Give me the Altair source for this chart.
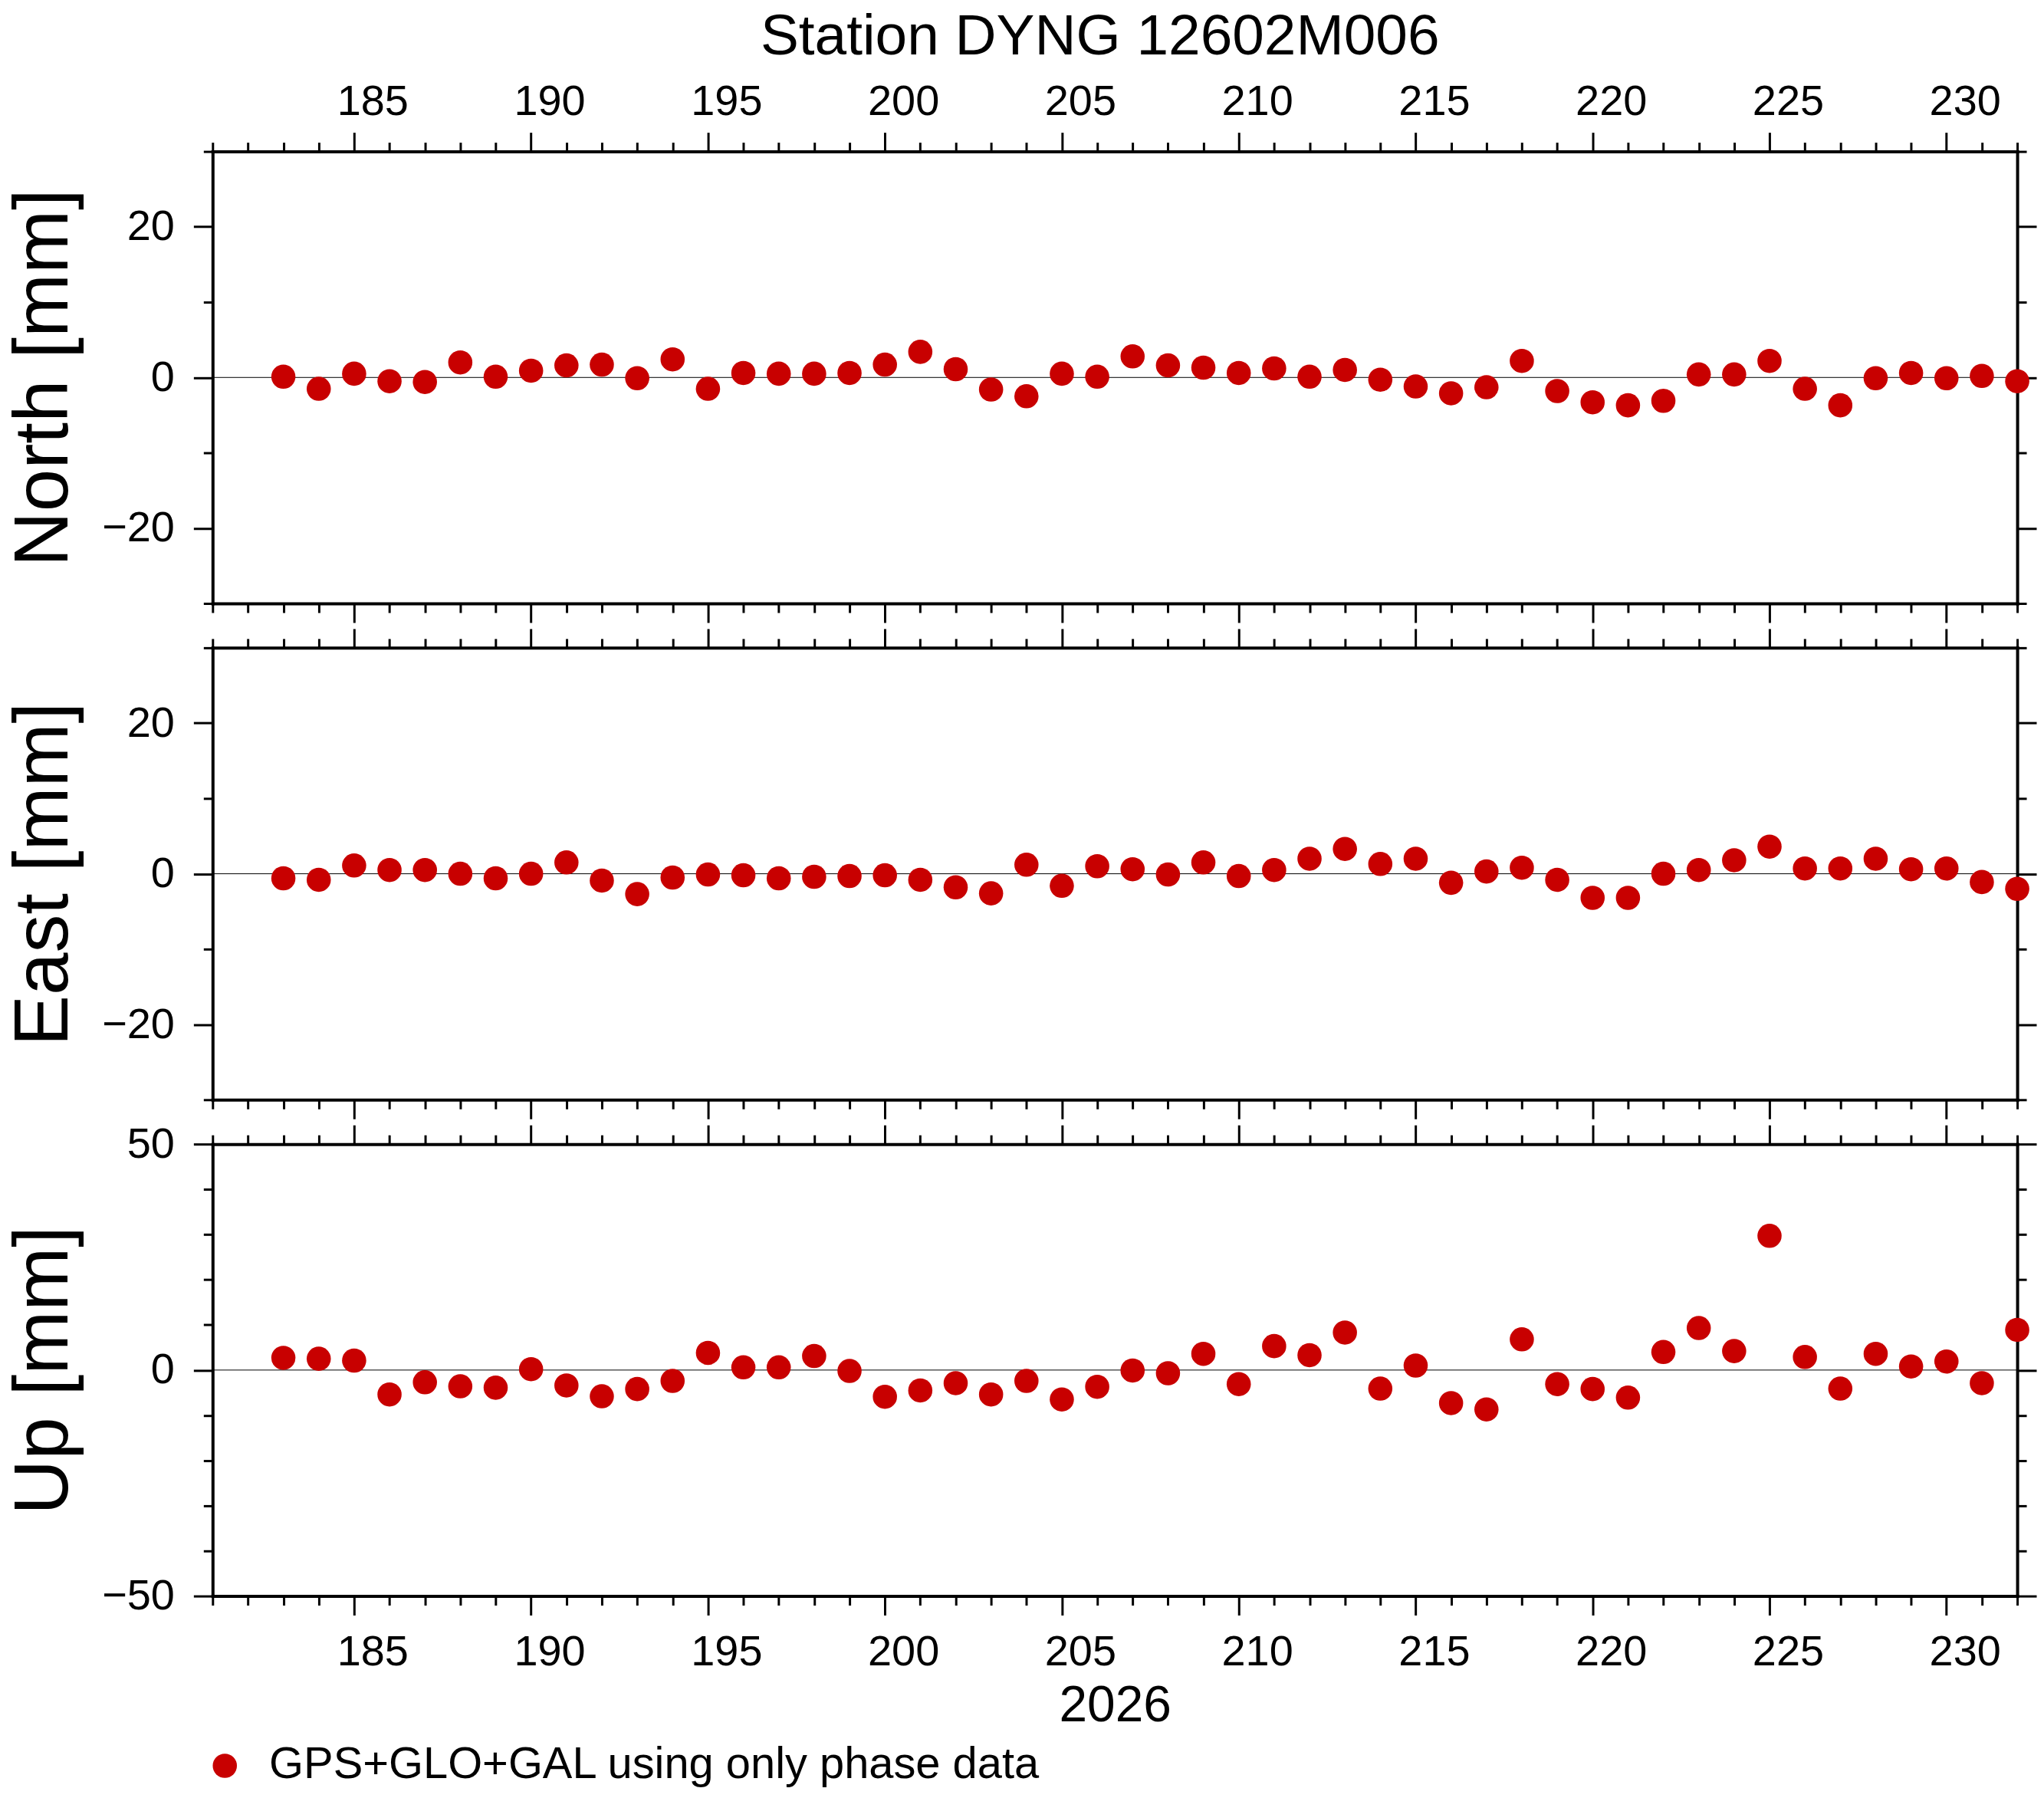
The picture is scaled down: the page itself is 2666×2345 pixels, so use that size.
import altair as alt
import pandas as pd

# Day of year 2026, one solution per day
days = list(range(183, 233))

north = [0.1, -1.5, 0.5, -0.5, -0.6, 2.0, 0.1, 0.9, 1.6, 1.7,
         -0.1, 2.4, -1.5, 0.6, 0.5, 0.5, 0.6, 1.7, 3.4, 1.1,
         -1.6, -2.5, 0.5, 0.1, 2.8, 1.6, 1.3, 0.6, 1.2, 0.1,
         1.0, -0.3, -1.2, -2.1, -1.3, 2.2, -1.8, -3.3, -3.7, -3.1,
         0.4, 0.4, 2.2, -1.5, -3.7, -0.1, 0.6, -0.1, 0.2, -0.5]

east = [-0.6, -0.8, 1.1, 0.5, 0.5, 0.0, -0.6, 0.0, 1.5, -0.9,
        -2.7, -0.5, -0.1, -0.2, -0.6, -0.4, -0.3, -0.2, -0.8, -1.8,
        -2.6, 1.2, -1.6, 1.0, 0.6, -0.1, 1.5, -0.3, 0.5, 2.0,
        3.3, 1.3, 2.0, -1.2, 0.3, 0.8, -0.8, -3.2, -3.2, 0.0,
        0.5, 1.8, 3.6, 0.7, 0.7, 2.0, 0.6, 0.7, -1.1, -2.0]

up = [2.7, 2.5, 2.1, -5.4, -2.7, -3.6, -3.9, 0.2, -3.4, -5.8,
      -4.2, -2.4, 3.8, 0.6, 0.6, 3.1, -0.2, -5.9, -4.5, -2.9,
      -5.4, -2.4, -6.5, -3.7, -0.1, -0.7, 3.6, -3.1, 5.3, 3.3,
      8.3, -4.1, 1.0, -7.3, -8.7, 6.8, -3.1, -4.2, -6.1, 4.0,
      9.3, 4.2, 29.7, 2.9, -4.1, 3.6, 0.8, 1.9, -2.9, 8.9]

day_domain = [181, 232]
day_ticks = list(range(181, 233))
ne_domain = [-30, 30]
ne_ticks = list(range(-30, 31, 10))
up_domain = [-50, 50]
up_ticks = list(range(-50, 51, 10))

series_name = "GPS+GLO+GAL using only phase data"
station_title = "Station DYNG 12602M006"
year_title = "2026"

FONT = "Liberation Sans"
RED = "#c80000"
W, H = 2360, 591


def major_or(major, big, small):
    return {"condition": {"test": f"datum.value % {major} === 0", "value": big},
            "value": small}


def make_axis(orient, values, major, labels=False, **extra):
    opts = dict(
        orient=orient,
        values=values,
        grid=False,
        domainColor="black",
        domainWidth=4,
        domainCap="square",
        tickColor="black",
        tickWidth=3,
        tickSize=major_or(major, 25, 12),
        labelFont=FONT,
        labelFontSize=56,
        labelColor="black",
        labelOverlap=False,
        labelFlush=False,
        labelBound=False,
        # untitled axes keep their (empty) title inside the frame
        title="",
        titleX=0,
        titleY=0,
    )
    if labels:
        opts["labelExpr"] = f"datum.value % {major} === 0 ? datum.label : ''"
    else:
        opts["labels"] = False
    opts.update(extra)
    return alt.Axis(**opts)


def panel(values, ytitle, ydomain, yticks, ymajor, top_labels=False, bottom_labels=False,
          legend=False):
    df = pd.DataFrame({"day": days, "value": values})
    zero = pd.DataFrame({"x0": [day_domain[0]], "x1": [day_domain[1]], "y0": [0]})
    xscale = alt.Scale(domain=day_domain, nice=False, zero=False)
    yscale = alt.Scale(domain=ydomain, nice=False, zero=False)

    top_extra = {}
    if top_labels:
        top_extra = dict(labelBaseline="alphabetic", labelPadding=23,
                         labelOffset=major_or(5, 24, 0),
                         title=station_title, titleFont=FONT, titleFontSize=75,
                         titleFontWeight="normal", titleColor="black",
                         titleX=1160, titleY=-127, titleAlign="center",
                         titleBaseline="alphabetic")
    bottom_extra = {}
    if bottom_labels:
        bottom_extra = dict(labelPadding=21, labelOffset=major_or(5, 24, 0),
                            title=year_title, titleFont=FONT, titleFontSize=66,
                            titleFontWeight="normal", titleColor="black",
                            titleX=W / 2, titleY=163, titleAlign="center",
                            titleBaseline="alphabetic")

    left = make_axis("left", yticks, ymajor, labels=True, labelPadding=25,
                     title=ytitle, titleFont=FONT, titleFontSize=100,
                     titleFontWeight="normal", titleColor="black",
                     titleAngle=270, titleX=-190, titleY=H / 2,
                     titleAlign="center", titleBaseline="alphabetic")
    right = make_axis("right", yticks, ymajor)

    rule = alt.Chart(zero).mark_rule(color="black", strokeWidth=1).encode(
        x=alt.X("x0:Q", scale=xscale,
                axis=make_axis("top", day_ticks, 5, labels=top_labels, **top_extra)),
        x2="x1:Q",
        y=alt.Y("y0:Q", scale=yscale, axis=right),
    )
    pts = alt.Chart(df).mark_circle(size=1000, color=RED, opacity=1).encode(
        x=alt.X("day:Q", scale=xscale,
                axis=make_axis("bottom", day_ticks, 5, labels=bottom_labels, **bottom_extra)),
        y=alt.Y("value:Q", scale=yscale, axis=left),
    )
    layers = [rule, pts]
    if legend:
        leg = pd.DataFrame({"label": [series_name]})
        layers.append(alt.Chart(leg).mark_circle(size=1000, color=RED, opacity=1).encode(
            x=alt.value(16), y=alt.value(813)))
        layers.append(alt.Chart(leg).mark_text(
            align="left", baseline="alphabetic", font=FONT, fontSize=58, color="black"
        ).encode(x=alt.value(74), y=alt.value(829), text="label:N"))
    return alt.layer(*layers).resolve_axis(x="independent", y="independent").properties(
        width=W, height=H)


top = panel(north, "North [mm]", ne_domain, ne_ticks, 20, top_labels=True)
mid = panel(east, "East [mm]", ne_domain, ne_ticks, 20)
bot = panel(up, "Up [mm]", up_domain, up_ticks, 50, bottom_labels=True, legend=True)

chart = alt.vconcat(top, mid, bot, spacing=58, bounds="flush").properties(
    padding=0
).configure_view(strokeWidth=0)

chart.save("out.html", embed_options={"renderer": "svg", "actions": False})
